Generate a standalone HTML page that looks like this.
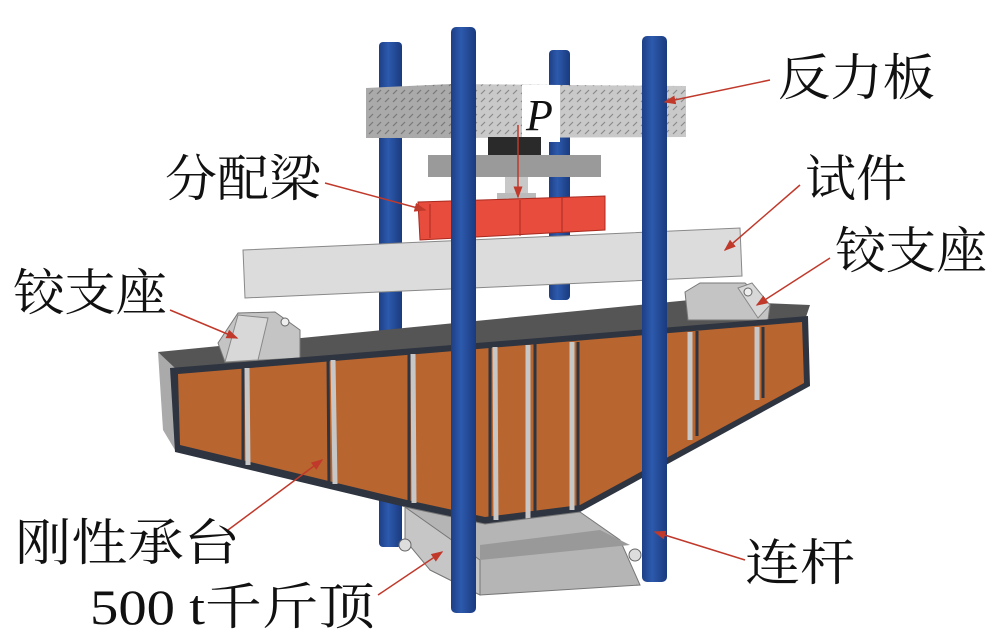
<!DOCTYPE html>
<html><head><meta charset="utf-8"><style>
html,body{margin:0;padding:0;background:#fff;}
svg{display:block}
.t{font-family:"Liberation Serif","Noto Serif CJK SC",serif;font-size:50px;fill:#111}
</style></head><body>
<svg width="999" height="640" viewBox="0 0 999 640" xmlns="http://www.w3.org/2000/svg">
<defs>
<linearGradient id="col" x1="0" x2="1"><stop offset="0" stop-color="#1d3f86"/><stop offset="0.4" stop-color="#2d5aad"/><stop offset="1" stop-color="#1a3a7e"/></linearGradient>
<pattern id="dia" width="8" height="8" patternUnits="userSpaceOnUse"><rect width="8" height="8" fill="#c9c9c9"/><line x1="1" y1="6" x2="5" y2="2" stroke="#8a8a8a" stroke-width="1.2"/></pattern>
<pattern id="dia2" width="8" height="8" patternUnits="userSpaceOnUse"><rect width="8" height="8" fill="#aaa"/><line x1="1" y1="6" x2="5" y2="2" stroke="#777" stroke-width="1.2"/></pattern>
<marker id="ar" markerWidth="8" markerHeight="8" refX="7" refY="4" orient="auto"><path d="M0,1 L8,4 L0,7z" fill="#c0392b"/></marker>
</defs>
<rect x="379" y="42" width="23" height="505" rx="4" fill="url(#col)"/>
<rect x="549" y="50" width="21" height="250" rx="4" fill="url(#col)"/>
<polygon points="366,88 452,84 452,138 366,138" fill="url(#dia2)"/>
<polygon points="452,84 686,86 686,137 452,138" fill="url(#dia)"/>
<rect x="522" y="85" width="38" height="57" fill="#fff"/>
<text x="526" y="130" font-family="Liberation Serif,serif" font-style="italic" font-size="44" fill="#111">P</text>
<rect x="488" y="137" width="53" height="20" fill="#2a2a2a"/>
<rect x="428" y="155" width="173" height="22" fill="#9a9a9a"/>
<rect x="505" y="177" width="23" height="18" fill="#c8c8c8"/>
<rect x="497" y="193" width="39" height="6" fill="#bbb"/>
<polygon points="418,202 605,196 605,230 420,240" fill="#e74c3c" stroke="#a82a1f"/>
<line x1="520" y1="200" x2="520" y2="236" stroke="#a82a1f"/>
<line x1="562" y1="198" x2="562" y2="233" stroke="#a82a1f"/>
<line x1="430" y1="204" x2="430" y2="238" stroke="#a82a1f"/>
<polygon points="243,250 740,228 742,276 245,298" fill="#dcdcdc" stroke="#888"/>
<polygon points="158,352 690,300 810,305 805,320 175,372" fill="#555"/>
<polygon points="218,343 238,313 275,312 300,330 300,358 225,362" fill="#c4c4c4" stroke="#777"/>
<polygon points="225,362 238,315 268,318 258,360" fill="#d8d8d8" stroke="#888"/>
<circle cx="285" cy="322" r="4" fill="#eee" stroke="#666"/>
<polygon points="685,292 700,283 745,283 770,305 768,320 688,320" fill="#c4c4c4" stroke="#777"/>
<polygon points="738,288 752,283 770,305 758,318" fill="#d8d8d8" stroke="#888"/>
<circle cx="748" cy="292" r="4" fill="#eee" stroke="#666"/>
<polygon points="158,352 175,368 175,450 163,430" fill="#aaa"/>
<polygon points="170,368 808,316 810,386 580,512 485,524 405,507 175,452" fill="#2e3440"/>
<polygon points="178,374 802,322 804,383 580,505 485,517 407,500 180,445" fill="#b8652f"/>
<g stroke="#c7c7c7" stroke-width="5">
<line x1="247" y1="368" x2="248" y2="465"/>
<line x1="333" y1="360" x2="335" y2="484"/>
<line x1="413" y1="354" x2="414" y2="503"/>
<line x1="495" y1="347" x2="496" y2="520"/>
<line x1="528" y1="345" x2="528" y2="520"/>
<line x1="572" y1="342" x2="572" y2="510"/>
<line x1="690" y1="332" x2="690" y2="440"/>
<line x1="757" y1="327" x2="757" y2="400"/>
</g>
<g stroke="#2e3440" stroke-width="3">
<line x1="243" y1="368" x2="243" y2="465"/>
<line x1="328" y1="360" x2="329" y2="484"/>
<line x1="409" y1="354" x2="409" y2="503"/>
<line x1="490" y1="347" x2="490" y2="520"/>
<line x1="535" y1="344" x2="535" y2="520"/>
<line x1="578" y1="342" x2="578" y2="510"/>
<line x1="697" y1="331" x2="697" y2="436"/>
<line x1="763" y1="327" x2="763" y2="398"/>
</g>
<polygon points="405,507 485,524 580,512 620,540 640,585 480,595 430,570" fill="#b5b5b5" stroke="#777"/>
<polygon points="405,507 480,560 480,595 430,570 405,540" fill="#c6c6c6" stroke="#777"/>
<polygon points="480,545 600,530 630,545 480,560" fill="#999"/>
<circle cx="405" cy="545" r="6" fill="#ddd" stroke="#666"/>
<circle cx="635" cy="555" r="6" fill="#ddd" stroke="#666"/>
<circle cx="458" cy="595" r="6" fill="#ddd" stroke="#666"/>
<rect x="451" y="27" width="25" height="586" rx="5" fill="url(#col)"/>
<rect x="642" y="36" width="25" height="546" rx="5" fill="url(#col)"/>
<g stroke="#c0392b" stroke-width="1.5" fill="none">
<line x1="770" y1="80" x2="665" y2="102" marker-end="url(#ar)"/>
<line x1="800" y1="185" x2="725" y2="250" marker-end="url(#ar)"/>
<line x1="830" y1="258" x2="757" y2="305" marker-end="url(#ar)"/>
<line x1="325" y1="183" x2="425" y2="210" marker-end="url(#ar)"/>
<line x1="170" y1="310" x2="237" y2="338" marker-end="url(#ar)"/>
<line x1="228" y1="530" x2="322" y2="460" marker-end="url(#ar)"/>
<line x1="378" y1="595" x2="442" y2="552" marker-end="url(#ar)"/>
<line x1="745" y1="560" x2="655" y2="532" marker-end="url(#ar)"/>
<line x1="518" y1="125" x2="518" y2="197" marker-end="url(#ar)"/>
</g>
<text class="t" x="778" y="95" textLength="157" lengthAdjust="spacingAndGlyphs">反力板</text>
<text class="t" x="805" y="196" textLength="102" lengthAdjust="spacingAndGlyphs">试件</text>
<text class="t" x="835" y="268" textLength="152" lengthAdjust="spacingAndGlyphs">铰支座</text>
<text class="t" x="165" y="196" textLength="156" lengthAdjust="spacingAndGlyphs">分配梁</text>
<text class="t" x="13" y="310" textLength="154" lengthAdjust="spacingAndGlyphs">铰支座</text>
<text class="t" x="15" y="560" textLength="225" lengthAdjust="spacingAndGlyphs">刚性承台</text>
<text class="t" x="90" y="624" textLength="285" lengthAdjust="spacingAndGlyphs">500 t千斤顶</text>
<text class="t" x="745" y="580" textLength="110" lengthAdjust="spacingAndGlyphs">连杆</text>
</svg>
</body></html>
